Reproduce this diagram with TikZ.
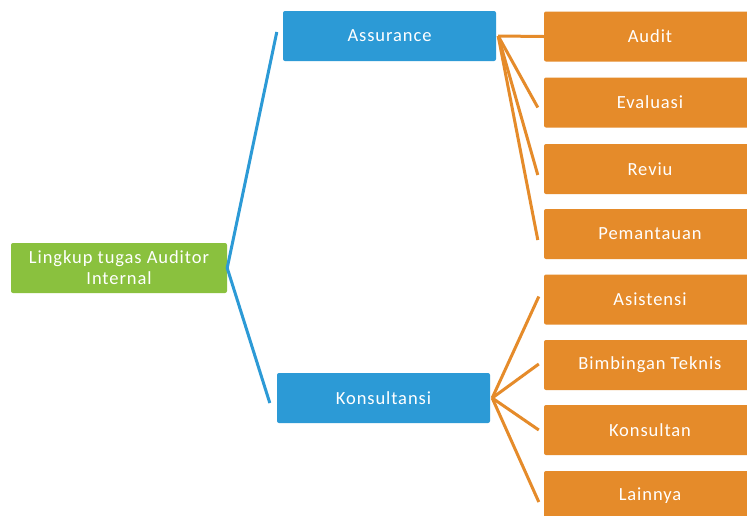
\documentclass[tikz,border=0pt]{standalone}
\usepackage{fontspec}
\setmainfont{Carlito}[LetterSpace=5]
\definecolor{cgreen}{RGB}{138,193,62}
\definecolor{cblue}{RGB}{44,154,214}
\definecolor{corange}{RGB}{229,139,42}
\tikzset{
  box/.style={rectangle, rounded corners=2pt, minimum height=50pt, text=white, align=center, inner sep=2pt, font=\fontsize{18.5}{21}\selectfont},
  rootbox/.style={box, fill=cgreen, minimum width=216pt},
  midbox/.style={box, fill=cblue, minimum width=213pt},
  leafbox/.style={box, fill=corange, minimum width=212pt},
  blueline/.style={draw=cblue, line width=3pt},
  orangeline/.style={draw=corange, line width=3pt},
}
\begin{document}
\begin{tikzpicture}[x=1pt,y=-1pt]
\clip (0,0) rectangle (747,515);
\fill[white] (0,0) rectangle (747,515);
\node[rootbox] (root) at (119,268) {Lingkup tugas Auditor\\Internal};
\node[midbox] (assur) at (389.5,36) {Assurance};
\node[midbox] (kons) at (383.5,398) {Konsultansi};
\node[leafbox] (audit) at (650,36.5) {Audit};
\node[leafbox] (eval) at (650,102.5) {Evaluasi};
\node[leafbox] (reviu) at (650,169) {Reviu};
\node[leafbox] (pem) at (650,234) {Pemantauan};
\node[leafbox] (asis) at (650,299.5) {Asistensi};
\node[leafbox] (bimb) at (650,365) {Bimbingan Teknis};
\node[leafbox] (konsl) at (650,430) {Konsultan};
\node[leafbox] (lain) at (650,496) {Lainnya};
\draw[blueline] ([xshift=-6pt,yshift=4pt]assur.west) -- (root.east) -- ([xshift=-7pt,yshift=-5pt]kons.west);
\draw[orangeline] ([xshift=2pt]assur.east) -- (audit.west);
\draw[orangeline] ([xshift=2pt]assur.east) -- ([xshift=-6pt,yshift=-5pt]eval.west);
\draw[orangeline] ([xshift=2pt]assur.east) -- ([xshift=-6pt,yshift=-6pt]reviu.west);
\draw[orangeline] ([xshift=2pt]assur.east) -- ([xshift=-6pt,yshift=-6pt]pem.west);
\draw[orangeline] ([xshift=2pt]kons.east) -- ([xshift=-5pt,yshift=3pt]asis.west);
\draw[orangeline] ([xshift=2pt]kons.east) -- ([xshift=-5pt,yshift=1pt]bimb.west);
\draw[orangeline] ([xshift=2pt]kons.east) -- ([xshift=-5pt]konsl.west);
\draw[orangeline] ([xshift=2pt]kons.east) -- ([xshift=-5pt,yshift=-6pt]lain.west);
\end{tikzpicture}
\end{document}
